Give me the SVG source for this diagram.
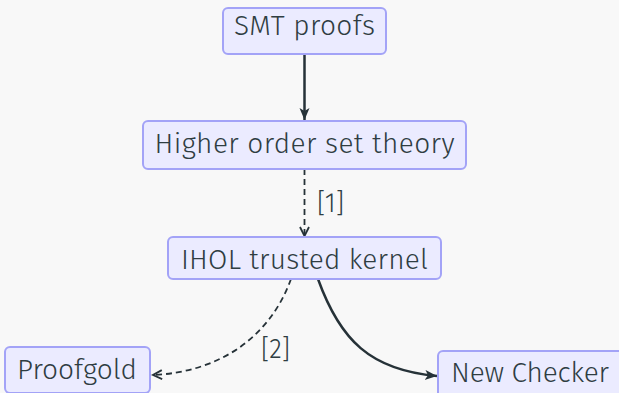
<svg xmlns="http://www.w3.org/2000/svg" width="619" height="393" viewBox="0 0 619 393">
<style>
.node rect{fill:#ebebff;stroke:#a3a3f7;stroke-width:2}
.node text,.lbl{font-family:"Fira Sans","Open Sans","Noto Sans",sans-serif;font-weight:300;font-size:28px;fill:#2f3d42;text-anchor:middle}
.edge{fill:none;stroke:#263238;stroke-width:2.5}
.dash{stroke-dasharray:6,4;stroke-width:1.8}
</style>
<defs>
<marker id="stealth" markerUnits="userSpaceOnUse" markerWidth="14" markerHeight="12" refX="12" refY="5" orient="auto" viewBox="0 0 14 12">
<path d="M0,0 L12,5 L0,10 L3,5 z" fill="#263238"/>
</marker>
<marker id="chev" markerUnits="userSpaceOnUse" markerWidth="14" markerHeight="12" refX="11" refY="5" orient="auto" viewBox="0 0 14 12">
<path d="M2,0.5 L11,5 L2,9.5" fill="none" stroke="#263238" stroke-width="1.8"/>
</marker>
</defs>
<rect width="619" height="393" fill="#f8f8f8"/>
<g id="connectors">
<path class="edge" d="M304.5,54 L304.5,120" marker-end="url(#stealth)"/>
<path class="edge dash" d="M304.5,169 L304.5,236" marker-end="url(#chev)"/>
<path class="edge dash" d="M291,279 C270,337 220,372 153,375" marker-end="url(#chev)"/>
<path class="edge" d="M318,279 C340,340 370,370 437,376" marker-end="url(#stealth)"/>
<text class="lbl" x="330.5" y="212" textLength="27" lengthAdjust="spacingAndGlyphs">[1]</text>
<text class="lbl" x="275.5" y="358" textLength="29" lengthAdjust="spacingAndGlyphs">[2]</text>
</g>
<g id="smt" class="node">
<rect x="223" y="8" width="163" height="46" rx="5"/>
<text x="304.5" y="35" textLength="141" lengthAdjust="spacing">SMT proofs</text>
</g>
<g id="hoset" class="node">
<rect x="143" y="121" width="323" height="48" rx="5"/>
<text x="304.5" y="153" textLength="300" lengthAdjust="spacing">Higher order set theory</text>
</g>
<g id="ihol" class="node">
<rect x="168" y="237" width="273" height="42" rx="5"/>
<text x="304.5" y="269" textLength="247" lengthAdjust="spacing">IHOL trusted kernel</text>
</g>
<g id="proofgold" class="node">
<rect x="5" y="347" width="145" height="46" rx="5"/>
<text x="77" y="379" textLength="120" lengthAdjust="spacing">Proofgold</text>
</g>
<g id="newchecker" class="node">
<rect x="438" y="351" width="185" height="46" rx="5"/>
<text x="530" y="382" textLength="158" lengthAdjust="spacing">New Checker</text>
</g>
</svg>
